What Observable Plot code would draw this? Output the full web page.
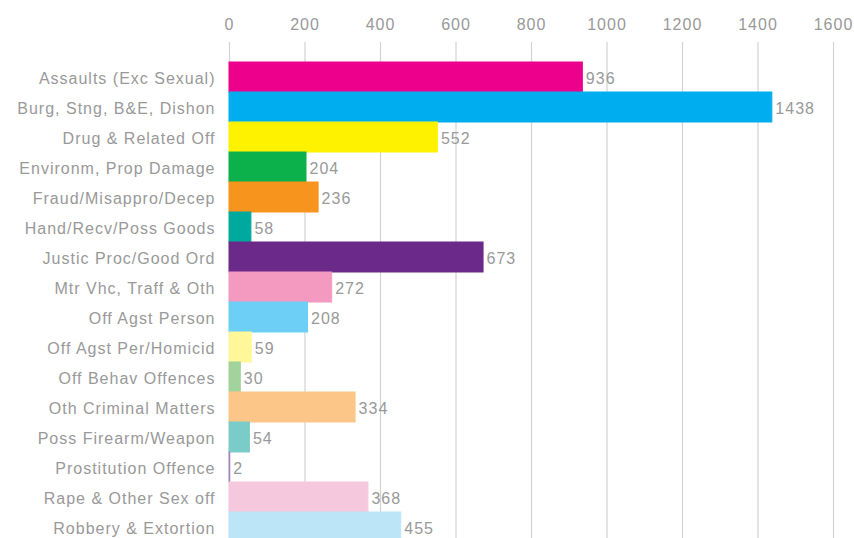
<!DOCTYPE html>
<html>
<head>
<meta charset="utf-8">
<script src="https://cdn.jsdelivr.net/npm/d3@7"></script>
<script src="https://cdn.jsdelivr.net/npm/@observablehq/plot@0.6"></script>
<style>
  html, body { margin: 0; padding: 0; background: #fff; }
</style>
</head>
<body>
<div id="chart"></div>
<script>
const categories = [
  "Assaults (Exc Sexual)",
  "Burg, Stng, B&E, Dishon",
  "Drug & Related Off",
  "Environm, Prop Damage",
  "Fraud/Misappro/Decep",
  "Hand/Recv/Poss Goods",
  "Justic Proc/Good Ord",
  "Mtr Vhc, Traff & Oth",
  "Off Agst Person",
  "Off Agst Per/Homicid",
  "Off Behav Offences",
  "Oth Criminal Matters",
  "Poss Firearm/Weapon",
  "Prostitution Offence",
  "Rape & Other Sex off",
  "Robbery & Extortion"
];
const values = [936, 1438, 552, 204, 236, 58, 673, 272, 208, 59, 30, 334, 54, 2, 368, 455];
const colors = [
  "#ec008c", "#00aeef", "#fff200", "#0db14b", "#f7941d", "#00a99d", "#6b2a8a", "#f49ac1",
  "#6dcff6", "#fff799", "#a3d39c", "#fdc689", "#7accc8", "#a186be", "#f6c8de", "#bde5f8"
];
const xTicks = [0, 200, 400, 600, 800, 1000, 1200, 1400, 1600];

const data = categories.map((c, i) => ({category: c, value: values[i], color: colors[i]}));

const chart = Plot.plot({
  width: 854,
  height: 538,
  marginTop: 42,
  marginBottom: 0,
  marginLeft: 229,
  marginRight: 21,
  style: {
    fontFamily: "'Liberation Sans', Arial, sans-serif",
    fontSize: "16px",
    color: "#999",
    letterSpacing: "1px",
    background: "#fff"
  },
  x: {domain: [0, 1600], label: null},
  y: {domain: categories, range: [60, 60 + 16 * 30.3], padding: 0, label: null},
  color: {type: "identity"},
  marks: [
    Plot.ruleX(xTicks, {stroke: "#d2d2d2", strokeWidth: 1.2}),
    Plot.barX(data, {y: "category", x: "value", fill: "color", stroke: "color", strokeWidth: 1}),
    Plot.text(data, {y: "category", x: "value", text: d => String(d.value), textAnchor: "start", dx: 3, dy: 1, fill: "#999"}),
    Plot.axisX(xTicks, {anchor: "top", tickSize: 0, tickPadding: 13, tickFormat: d => String(d), fill: "#999", label: null}),
    Plot.axisY({tickSize: 0, tickPadding: 14, fill: "#999", label: null, dy: 1})
  ]
});
document.getElementById("chart").appendChild(chart);
</script>
</body>
</html>
